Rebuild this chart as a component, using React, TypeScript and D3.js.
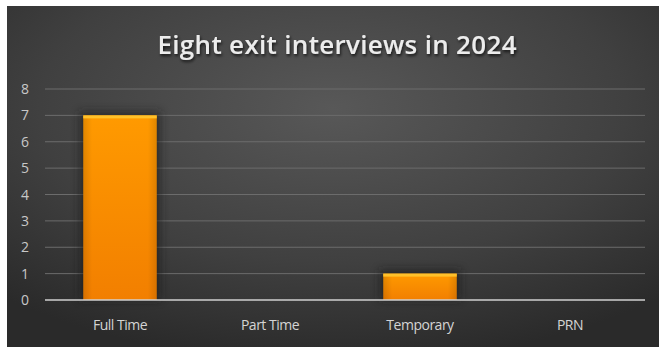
import React from "react";
import * as d3 from "d3";

const categories = ["Full Time", "Part Time", "Temporary", "PRN"];
const values = [7, 0, 1, 0];
const yTicks = [0, 1, 2, 3, 4, 5, 6, 7, 8];
const title = "Eight exit interviews in 2024";

const W = 659;
const H = 347;

export default function App() {
  const x = d3.scaleBand<string>().domain(categories).range([45, 645]).paddingInner(0.51).paddingOuter(0.255);
  const y = d3.scaleLinear().domain([0, 8]).range([300, 89]);

  return (
    <svg width={W} height={H} style={{ position: "absolute", left: 0, top: 0, display: "block" }}>
      <defs>
        <radialGradient id="bg" cx="50%" cy="30%" r="75%">
          <stop offset="0%" stopColor="#585858" />
          <stop offset="60%" stopColor="#404040" />
          <stop offset="100%" stopColor="#2a2a2a" />
        </radialGradient>
        <linearGradient id="bar" x1="0" y1="0" x2="0" y2="1">
          <stop offset="0%" stopColor="#ff9a00" />
          <stop offset="100%" stopColor="#f27f00" />
        </linearGradient>
        <linearGradient id="barSide" x1="0" y1="0" x2="1" y2="0">
          <stop offset="0%" stopColor="#000" stopOpacity="0.12" />
          <stop offset="12%" stopColor="#000" stopOpacity="0" />
          <stop offset="88%" stopColor="#000" stopOpacity="0" />
          <stop offset="100%" stopColor="#000" stopOpacity="0.12" />
        </linearGradient>
        <filter id="glow" x="-30%" y="-30%" width="160%" height="160%">
          <feGaussianBlur stdDeviation="4" />
        </filter>
        <filter id="tshadow" x="-10%" y="-30%" width="120%" height="160%">
          <feDropShadow dx="1" dy="2" stdDeviation="1.5" floodColor="#000" floodOpacity="0.7" />
        </filter>
      </defs>
      <rect x={0} y={0} width={W} height={H} fill="#ffffff" />
      <rect x={7} y={6} width={W - 7} height={H - 6} fill="url(#bg)" />
      <text
        x={337}
        y={54}
        textAnchor="middle"
        fill="#ececec"
        fontFamily="'Open Sans', 'DejaVu Sans', sans-serif"
        fontWeight={600}
        fontSize={26}
        textLength={359}
        lengthAdjust="spacing"
        filter="url(#tshadow)"
      >
        {title}
      </text>
      {yTicks.map((t) => (
        <g key={t}>
          {t > 0 && (
            <line x1={45} x2={645} y1={y(t)} y2={y(t)} stroke="#6c6c6c" strokeWidth={1} />
          )}
          <text
            x={25}
            y={y(t) + 5}
            textAnchor="middle"
            fill="#c8c8c8"
            fontFamily="'Open Sans', sans-serif"
            fontSize={14}
          >
            {t}
          </text>
        </g>
      ))}
      {categories.map((c, i) =>
        values[i] > 0 ? (
          <g key={c}>
            <rect
              x={(x(c) as number) - 4}
              y={y(values[i]) - 4}
              width={x.bandwidth() + 8}
              height={y(0) - y(values[i]) + 4}
              fill="#1f1f1f"
              opacity={0.6}
              filter="url(#glow)"
            />
            <rect
              x={x(c) as number}
              y={y(values[i])}
              width={x.bandwidth()}
              height={y(0) - y(values[i])}
              fill="url(#bar)"
            />
            <rect
              x={x(c) as number}
              y={y(values[i])}
              width={x.bandwidth()}
              height={y(0) - y(values[i])}
              fill="url(#barSide)"
            />
            <rect
              x={x(c) as number}
              y={y(values[i])}
              width={x.bandwidth()}
              height={3}
              fill="#ffc12a"
            />
          </g>
        ) : null
      )}
      <line x1={45} x2={645} y1={y(0)} y2={y(0)} stroke="#d0d0d0" strokeWidth={1.5} />
      {categories.map((c) => (
        <text
          key={c}
          x={(x(c) as number) + x.bandwidth() / 2}
          y={330}
          textAnchor="middle"
          fill="#d4d4d4"
          fontFamily="'Open Sans', sans-serif"
          fontSize={14}
          letterSpacing={-0.5}
        >
          {c}
        </text>
      ))}
    </svg>
  );
}
